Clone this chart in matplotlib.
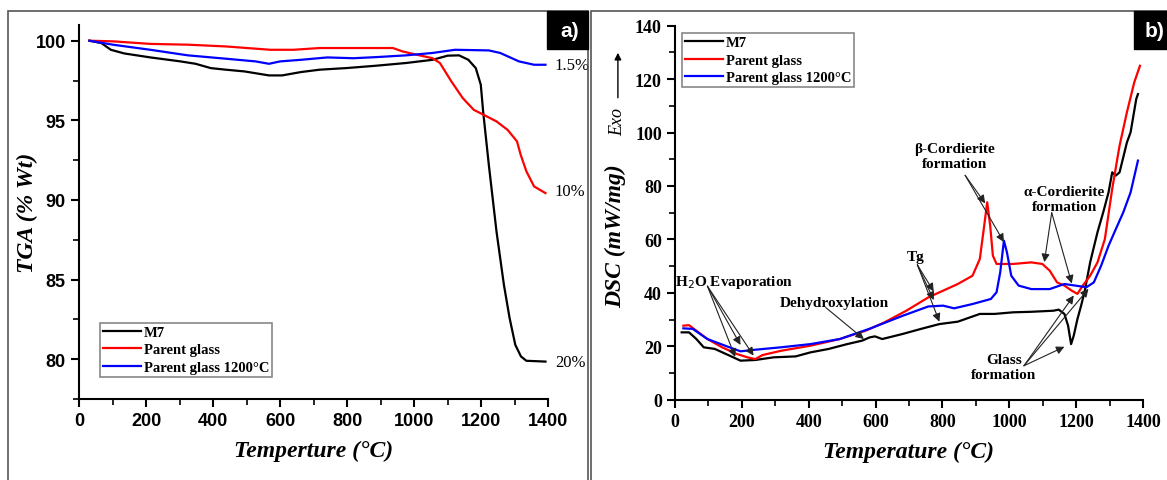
import matplotlib.pyplot as plt
from matplotlib.patches import Rectangle
from matplotlib.ticker import MultipleLocator

# ---- data ----
tga_m7_t = [31, 67, 95, 135, 213, 303, 348, 393, 438, 494, 567, 606, 662, 718, 797, 887, 976,
            1055, 1100, 1134, 1162, 1184, 1199, 1206, 1223, 1246, 1268, 1285, 1302, 1319, 1335, 1392]
tga_m7 = [100, 99.85, 99.43, 99.2, 98.95, 98.7, 98.55, 98.28, 98.18, 98.07, 97.82, 97.82, 98.03,
          98.18, 98.28, 98.43, 98.6, 98.8, 99.06, 99.08, 98.8, 98.28, 97.24, 95.56, 92.2, 88.0,
          84.67, 82.58, 80.9, 80.17, 79.9, 79.85]

tga_pg_t = [31, 101, 213, 325, 438, 527, 572, 640, 718, 830, 937, 965, 999, 1055, 1077, 1111,
            1145, 1178, 1212, 1246, 1279, 1307, 1318, 1335, 1358, 1392]
tga_pg = [100, 99.96, 99.8, 99.75, 99.64, 99.5, 99.43, 99.43, 99.54, 99.54, 99.54, 99.33, 99.16,
          98.9, 98.6, 97.45, 96.4, 95.66, 95.3, 94.93, 94.4, 93.68, 92.84, 91.8, 90.85, 90.43]

tga_pg12_t = [31, 101, 213, 325, 438, 527, 567, 600, 662, 741, 819, 887, 976, 1055, 1122, 1223,
              1257, 1313, 1358, 1392]
tga_pg12 = [100, 99.75, 99.43, 99.08, 98.87, 98.7, 98.55, 98.7, 98.8, 98.95, 98.9, 98.97, 99.08,
            99.23, 99.43, 99.39, 99.23, 98.7, 98.49, 98.49]

dsc_m7_t = [20, 42, 64, 86, 119, 163, 196, 240, 295, 361, 405, 460, 515, 560, 582, 598, 620, 681,
            736, 791, 846, 912, 956, 1011, 1066, 1132, 1148, 1165, 1176, 1185, 1193, 1204, 1215,
            1226, 1242, 1264, 1281, 1297, 1308, 1319, 1330, 1352, 1363, 1380, 1385]
dsc_m7 = [25.2, 25.2, 22.7, 19.6, 19.0, 16.5, 14.6, 14.85, 15.85, 16.2, 17.7, 19.0, 20.8, 22.1,
          23.3, 23.7, 22.7, 24.6, 26.5, 28.3, 29.2, 32.1, 32.1, 32.7, 32.9, 33.3, 33.7, 32.1, 27.7,
          20.8, 24.0, 30.2, 35.2, 40.8, 51.4, 62.7, 70.1, 77.6, 85.1, 83.9, 85.1, 96.3, 100.1,
          112.6, 114.4]

dsc_pg_t = [25, 42, 64, 97, 141, 185, 218, 240, 262, 317, 405, 493, 570, 626, 692, 758, 802, 846,
            890, 912, 925, 934, 943, 951, 962, 1011, 1066, 1099, 1121, 1143, 1165, 1187, 1204,
            1220, 1242, 1264, 1286, 1308, 1330, 1352, 1374, 1391]
dsc_pg = [27.7, 27.9, 25.8, 22.7, 19.6, 17.1, 15.8, 15.2, 16.7, 18.3, 20.2, 22.7, 25.8, 28.9,
          33.3, 38.3, 40.8, 43.3, 46.4, 52.7, 65.1, 73.9, 65.1, 53.9, 50.8, 50.8, 51.4, 50.8,
          48.3, 43.9, 42.7, 40.8, 39.6, 42.7, 46.4, 51.4, 60.1, 78.9, 95.1, 107.6, 118.8, 125.0]

dsc_pg12_t = [25, 53, 97, 163, 196, 240, 317, 405, 493, 581, 681, 758, 802, 835, 890, 945, 962,
              973, 984, 993, 1006, 1028, 1066, 1121, 1165, 1198, 1231, 1253, 1275, 1297, 1319,
              1341, 1363, 1385]
dsc_pg12 = [26.7, 26.5, 22.7, 19.6, 18.1, 18.7, 19.6, 20.8, 22.7, 26.5, 31.4, 34.9, 35.2, 34.2,
            35.8, 37.7, 40.2, 47.7, 59.5, 55.2, 46.4, 42.7, 41.4, 41.4, 43.3, 42.7, 42.1, 43.9,
            50.2, 57.6, 63.9, 70.1, 77.6, 89.5]

labels = ['M7', 'Parent glass', 'Parent glass 1200°C']
colors = ['black', 'red', 'blue']

serif = 'Liberation Serif'
sans = 'Liberation Sans'

fig = plt.figure(figsize=(11.67, 4.81), dpi=100)

# panel frames
for x0, w in [(0.007, 0.497), (0.506, 0.5)]:
    fig.patches.append(Rectangle((x0, -0.05), w, 1.025, transform=fig.transFigure,
                                 fill=False, edgecolor='#555555', lw=1.2))
for x0, w, s in [(0.469, 0.035, 'a)'), (0.972, 0.03, 'b)')]:
    fig.patches.append(Rectangle((x0, 0.896), w, 0.079, transform=fig.transFigure,
                                 facecolor='black', edgecolor='black'))
    fig.text(x0 + w / 2 + 0.002, 0.935, s, color='white', fontsize=15, fontweight='bold',
             family=sans, ha='center', va='center')


def style_axes(ax, tickfont):
    for s in ['top', 'right']:
        ax.spines[s].set_visible(False)
    for s in ['left', 'bottom']:
        ax.spines[s].set_linewidth(1.5)
    ax.tick_params(which='major', direction='out', length=6, width=1.5)
    ax.tick_params(which='minor', direction='out', length=4, width=1.2)
    for lab in ax.get_xticklabels() + ax.get_yticklabels():
        lab.set_fontfamily(tickfont)
        lab.set_fontweight('bold')
        lab.set_fontsize(13)


# ---- a) TGA ----
ax1 = fig.add_axes([0.0677, 0.1684, 0.402, 0.778])
ax1.plot(tga_m7_t, tga_m7, color=colors[0], lw=1.6, label=labels[0])
ax1.plot(tga_pg_t, tga_pg, color=colors[1], lw=1.6, label=labels[1])
ax1.plot(tga_pg12_t, tga_pg12, color=colors[2], lw=1.6, label=labels[2])
ax1.set_xlim(0, 1400)
ax1.set_ylim(77.5, 101)
ax1.set_xticks(range(0, 1401, 200))
ax1.set_yticks([80, 85, 90, 95, 100])
ax1.xaxis.set_minor_locator(MultipleLocator(100))
ax1.yaxis.set_minor_locator(MultipleLocator(2.5))
style_axes(ax1, sans)
ax1.set_xlabel('Temperture (°C)', family=serif, fontsize=17, fontweight='bold',
               style='italic', labelpad=8)
ax1.set_ylabel('TGA (% Wt)', family=serif, fontsize=17, fontweight='bold', style='italic')
ax1.yaxis.set_label_coords(-0.088, 0.5)
for y, s in [(98.47, '1.5%'), (90.55, '10%'), (79.8, '20%')]:
    ax1.text(1420, y, s, family=serif, fontsize=12, va='center', ha='left', clip_on=False)
leg = ax1.legend(loc='lower left', bbox_to_anchor=(0.045, 0.059), borderaxespad=0,
                 prop={'family': serif, 'weight': 'bold', 'size': 10.5}, fancybox=False,
                 edgecolor='#888888', framealpha=1, borderpad=0.2, labelspacing=0.3,
                 handlelength=2.6, handletextpad=0.2)
leg.get_frame().set_linewidth(1.2)

# ---- b) DSC ----
ax2 = fig.add_axes([0.5784, 0.167, 0.401, 0.7775])
ax2.plot(dsc_m7_t, dsc_m7, color=colors[0], lw=1.6, label=labels[0])
ax2.plot(dsc_pg_t, dsc_pg, color=colors[1], lw=1.6, label=labels[1])
ax2.plot(dsc_pg12_t, dsc_pg12, color=colors[2], lw=1.6, label=labels[2])
ax2.set_xlim(0, 1400)
ax2.set_ylim(0, 140)
ax2.set_xticks(range(0, 1401, 200))
ax2.set_yticks(range(0, 141, 20))
ax2.xaxis.set_minor_locator(MultipleLocator(100))
ax2.yaxis.set_minor_locator(MultipleLocator(10))
style_axes(ax2, serif)
ax2.set_xlabel('Temperature (°C)', family=serif, fontsize=17, fontweight='bold',
               style='italic', labelpad=8)
ax2.set_ylabel('DSC (mW/mg)', family=serif, fontsize=17, fontweight='bold', style='italic')
ax2.yaxis.set_label_coords(-0.105, 0.44)
leg2 = ax2.legend(loc='upper left', bbox_to_anchor=(0.015, 0.98), borderaxespad=0,
                  prop={'family': serif, 'weight': 'bold', 'size': 10.5}, fancybox=False,
                  edgecolor='#888888', framealpha=1, borderpad=0.2, labelspacing=0.3,
                  handlelength=2.6, handletextpad=0.2)
leg2.get_frame().set_linewidth(1.2)

# Exo arrow
ax2.annotate('', xy=(-0.122, 0.935), xytext=(-0.122, 0.80), xycoords='axes fraction',
             arrowprops=dict(arrowstyle='-|>', color='black', lw=1.0), annotation_clip=False)
ax2.text(-0.122, 0.745, 'Exo', transform=ax2.transAxes, rotation=90, family=serif,
         style='italic', fontsize=13, ha='center', va='center')

arr = dict(arrowstyle='-|>', color='#222222', lw=0.8, shrinkA=0, shrinkB=0,
           mutation_scale=12)
ann_font = dict(family=serif, fontweight='bold', fontsize=11, ha='center', va='center')


def multi_arrow(text, text_xy, start, targets):
    ax2.text(text_xy[0], text_xy[1], text, **ann_font)
    for t in targets:
        ax2.annotate('', xy=t, xytext=start, arrowprops=arr)


multi_arrow('H$_2$O Evaporation', (178, 44.2), (97, 42.5),
            [(180, 16), (196, 20.5), (235, 16.5)])
multi_arrow('Dehydroxylation', (477, 36.2), (451, 34.5), [(565, 22.7)])
multi_arrow('Tg', (719, 53.5), (725, 50.5), [(774, 40.5), (774, 37.3), (791, 29.2)])
multi_arrow('β-Cordierite\nformation', (835, 91.3), (868, 84), [(928, 73.5), (984, 59)])
multi_arrow('α-Cordierite\nformation', (1165, 75.1), (1127, 70), [(1105, 51.5), (1187, 43.5)])
multi_arrow('Glass\nformation', (984, 12.1), (1044, 12.7),
            [(1165, 19.8), (1193, 39), (1237, 41.5)])

fig.savefig('out.png', dpi=100)
